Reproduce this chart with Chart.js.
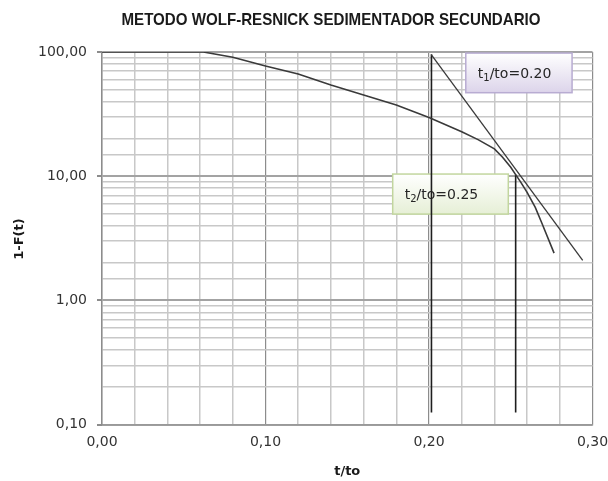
<!DOCTYPE html>
<html>
<head>
<meta charset="utf-8">
<script src="https://cdn.jsdelivr.net/npm/chart.js@4"></script>
<style>
  html, body { margin: 0; padding: 0; background: #ffffff; }
  #wrap { width: 608px; height: 481px; }
</style>
</head>
<body>
<div id="wrap"><canvas id="chart" width="608" height="481"></canvas></div>
<script>
// Settling curve 1-F(t) against t/to
const curveX = [0, 0.062, 0.08, 0.10, 0.12, 0.14, 0.16, 0.18, 0.20, 0.22, 0.23, 0.24, 0.245, 0.25, 0.253, 0.256, 0.26, 0.265, 0.269, 0.2765];
const curveY = [100, 100, 90.6, 77.0, 66.5, 54.2, 45.0, 37.4, 29.7, 22.8, 19.7, 16.6, 14.2, 11.8, 10.3, 9.0, 7.4, 5.6, 4.2, 2.4];

// Tangent line drawn on the log plot
const tangentX = [0.2015, 0.294];
const tangentY = [95, 2.1];

// Vertical markers for t1/to and t2/to
const mark1X = [0.2015, 0.2015];
const mark1Y = [0.125, 96];
const mark2X = [0.253, 0.253];
const mark2Y = [0.125, 10.3];

// Axis ranges and labelled ticks
const xRange = [0, 0.3];
const yRange = [0.1, 100];
const xLabelled = [0, 0.1, 0.2, 0.3];
const yLabelled = [0.1, 1, 10, 100];

const titleText = 'METODO WOLF-RESNICK SEDIMENTADOR SECUNDARIO';
const xTitle = 't/to';
const yTitle = '1-F(t)';
const note1 = { sub: '1', rest: '/to=0.20' };
const note2 = { sub: '2', rest: '/to=0.25' };

const pts = (xs, ys) => xs.map((x, i) => ({ x: x, y: ys[i] }));
const isDecade = v => { const l = Math.log10(v); return Math.abs(l - Math.round(l)) < 1e-7; };
const isTenth = v => Math.abs(v * 10 - Math.round(v * 10)) < 1e-7;
const fmt = v => v.toFixed(2).replace('.', ',');

const labelFont = { family: 'DejaVu Sans', size: 14 };

function drawNote(ctx, x0, y0, x1, y1, top, bottom, border, note) {
  const g = ctx.createLinearGradient(0, y0, 0, y1);
  g.addColorStop(0, top);
  g.addColorStop(1, bottom);
  ctx.fillStyle = g;
  ctx.fillRect(x0, y0, x1 - x0, y1 - y0);
  ctx.strokeStyle = border;
  ctx.lineWidth = 1.5;
  ctx.strokeRect(x0, y0, x1 - x0, y1 - y0);
  ctx.fillStyle = '#262626';
  ctx.textBaseline = 'alphabetic';
  ctx.textAlign = 'left';
  let tx = x0 + 12;
  const by = (y0 + y1) / 2 + 5;
  ctx.font = '14px "DejaVu Sans"';
  ctx.fillText('t', tx, by);
  tx += ctx.measureText('t').width;
  ctx.font = '10px "DejaVu Sans"';
  ctx.fillText(note.sub, tx, by + 3);
  tx += ctx.measureText(note.sub).width;
  ctx.font = '14px "DejaVu Sans"';
  ctx.fillText(note.rest, tx, by);
}

const notesPlugin = {
  id: 'notes',
  beforeDatasetsDraw(chart) {
    const { ctx, scales: { x, y } } = chart;
    ctx.save();
    drawNote(ctx, x.getPixelForValue(0.2225), y.getPixelForValue(98), x.getPixelForValue(0.2875), y.getPixelForValue(47),
      '#ffffff', '#dcd4ea', '#b8acd2', note1);
    drawNote(ctx, x.getPixelForValue(0.1778), y.getPixelForValue(10.4), x.getPixelForValue(0.2485), y.getPixelForValue(4.95),
      '#ffffff', '#e6efd6', '#c2d69e', note2);
    ctx.restore();
  },
  afterDraw(chart) {
    const { ctx, chartArea } = chart;
    ctx.save();
    ctx.fillStyle = '#1a1a1a';
    ctx.textAlign = 'center';
    ctx.textBaseline = 'middle';
    // condensed bold heading
    ctx.font = 'bold 17px "Liberation Sans"';
    const w = ctx.measureText(titleText).width;
    ctx.save();
    ctx.translate(331, 20);
    ctx.scale(419 / w, 1);
    ctx.fillText(titleText, 0, 0);
    ctx.restore();
    ctx.font = 'bold 13px "DejaVu Sans"';
    ctx.fillText(xTitle, (chartArea.left + chartArea.right) / 2, 472);
    ctx.translate(20, 239);
    ctx.rotate(-Math.PI / 2);
    ctx.fillText(yTitle, 0, 0);
    ctx.restore();
  }
};

const lineStyle = (color, w) => ({
  borderColor: color, borderWidth: w, pointRadius: 0, showLine: true, fill: false, tension: 0
});

new Chart(document.getElementById('chart'), {
  type: 'scatter',
  data: {
    datasets: [
      Object.assign({ data: pts(curveX, curveY) }, lineStyle('#3a3a3a', 1.6)),
      Object.assign({ data: pts(tangentX, tangentY) }, lineStyle('#3a3a3a', 1.3)),
      Object.assign({ data: pts(mark1X, mark1Y) }, lineStyle('#1e1e1e', 1.6)),
      Object.assign({ data: pts(mark2X, mark2Y) }, lineStyle('#1e1e1e', 1.6))
    ]
  },
  options: {
    responsive: false,
    animation: false,
    layout: { padding: { left: 0, right: 15.5, top: 52, bottom: 0 } },
    plugins: { legend: { display: false }, tooltip: { enabled: false }, title: { display: false } },
    scales: {
      x: {
        type: 'linear',
        min: xRange[0], max: xRange[1],
        afterFit: s => { s.height = 56.5; s.paddingLeft = 0; s.paddingRight = 0; },
        ticks: {
          stepSize: 0.02,
          font: labelFont, color: '#333333', padding: 9, maxRotation: 0, autoSkip: false,
          callback: v => (isTenth(v) && xLabelled.some(t => Math.abs(t - v) < 1e-7)) ? fmt(v) : ''
        },
        grid: {
          drawTicks: false,
          color: c => isTenth(c.tick.value) ? '#8c8c8c' : '#c8c8c8',
          lineWidth: c => isTenth(c.tick.value) ? 1.2 : 1.5
        },
        border: { color: '#999999', width: 1.5 }
      },
      y: {
        type: 'logarithmic',
        min: yRange[0], max: yRange[1],
        afterFit: s => { s.width = 102; },
        ticks: {
          font: labelFont, color: '#333333', padding: 10, autoSkip: false,
          callback: v => yLabelled.some(t => Math.abs(t - v) < 1e-9) ? fmt(v) : ''
        },
        grid: {
          tickLength: 5,
          color: c => isDecade(c.tick.value) ? '#a3a3a3' : '#c8c8c8',
          lineWidth: c => isDecade(c.tick.value) ? 2 : 1.5,
          tickColor: c => isDecade(c.tick.value) ? '#8c8c8c' : 'rgba(0,0,0,0)'
        },
        border: { color: '#8c8c8c', width: 1.5 }
      }
    }
  },
  plugins: [notesPlugin]
});
</script>
</body>
</html>
